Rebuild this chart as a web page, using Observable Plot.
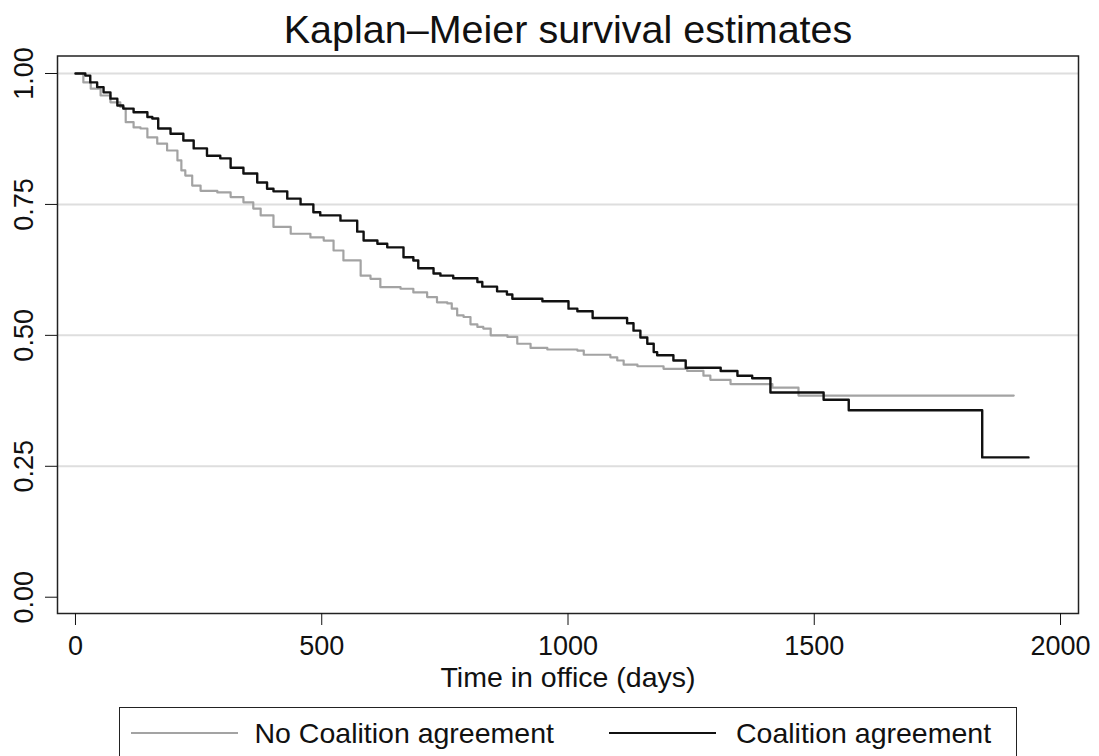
<!DOCTYPE html>
<html><head><meta charset="utf-8">
<script src="https://cdn.jsdelivr.net/npm/d3@7"></script>
<script src="https://cdn.jsdelivr.net/npm/@observablehq/plot@0.6"></script>
<style>
body{margin:0;background:#fff;font-family:"Liberation Sans",Arial,Helvetica,sans-serif;}
#wrap{position:relative;width:1099px;height:756px;overflow:hidden;background:#fff;}
#chart{position:absolute;left:0;top:0;}
#legend{position:absolute;left:119px;top:707px;width:898px;height:80px;border:1.5px solid #222;box-sizing:border-box;background:#fff;}
.sw{position:absolute;height:2px;}
.lt{position:absolute;font-size:28.5px;line-height:30px;white-space:nowrap;color:#111;}
</style></head>
<body><div id="wrap"><div id="chart"></div><div id="legend"></div></div>
<script>
// ---- data ----
const title = "Kaplan–Meier survival estimates";
const xLabel = "Time in office (days)";
const seriesNames = ["No Coalition agreement", "Coalition agreement"];
const seriesColors = ["#a3a3a3", "#111111"];
const xTicks = [0, 500, 1000, 1500, 2000];
const yTicks = [0, 0.25, 0.5, 0.75, 1];
const gridVals = [0.25, 0.5, 0.75, 1];

const noCoalDays = [0,16,31,51,71,91,98,102,118,132,146,166,186,207,215,223,237,254,288,315,341,361,376,402,437,477,504,524,544,579,599,619,660,686,714,734,755,764,775,788,802,816,828,843,877,897,924,958,1019,1032,1086,1100,1113,1141,1194,1242,1275,1289,1330,1415,1468,1905];
const noCoalSurv = [1.000,0.983,0.971,0.958,0.945,0.936,0.933,0.907,0.897,0.895,0.878,0.866,0.853,0.834,0.815,0.805,0.786,0.776,0.773,0.764,0.754,0.742,0.729,0.707,0.694,0.687,0.681,0.662,0.643,0.614,0.608,0.592,0.589,0.582,0.573,0.563,0.561,0.551,0.538,0.535,0.521,0.516,0.513,0.500,0.497,0.484,0.476,0.473,0.471,0.463,0.458,0.452,0.444,0.441,0.436,0.432,0.423,0.415,0.407,0.400,0.385,0.385];

const coalDays = [0,20,30,44,57,71,85,97,118,146,156,168,193,219,240,267,294,315,341,369,389,402,430,457,483,497,538,572,585,613,633,666,686,696,727,741,767,816,826,856,876,887,948,1001,1019,1050,1120,1133,1147,1161,1174,1181,1214,1239,1310,1344,1374,1411,1519,1570,1841,1935];
const coalSurv = [1.000,0.996,0.983,0.974,0.964,0.952,0.939,0.933,0.926,0.917,0.914,0.895,0.885,0.872,0.857,0.843,0.838,0.820,0.809,0.792,0.780,0.775,0.761,0.750,0.735,0.729,0.719,0.698,0.681,0.675,0.668,0.649,0.643,0.628,0.618,0.614,0.609,0.602,0.593,0.584,0.578,0.570,0.565,0.551,0.546,0.533,0.523,0.509,0.496,0.484,0.468,0.462,0.452,0.438,0.432,0.423,0.418,0.391,0.377,0.357,0.267,0.267];

const noCoalRows = noCoalDays.map((d, i) => ({day: d, surv: noCoalSurv[i]}));
const coalRows = coalDays.map((d, i) => ({day: d, surv: coalSurv[i]}));

const font = "Liberation Sans, Arial, Helvetica, sans-serif";
const chart = Plot.plot({
  width: 1099, height: 700,
  marginLeft: 57, marginRight: 21, marginTop: 55.5, marginBottom: 87,
  style: {fontFamily: font, color: "#111", background: "white"},
  x: {domain: [-36.5, 2036.5]},
  y: {domain: [-0.0311, 1.0334]},
  marks: [
    Plot.ruleY(gridVals, {stroke: "#dedede", strokeWidth: 2}),
    Plot.line(noCoalRows, {x: "day", y: "surv", stroke: seriesColors[0], strokeWidth: 2.2, curve: "step-after"}),
    Plot.line(coalRows, {x: "day", y: "surv", stroke: seriesColors[1], strokeWidth: 2.4, curve: "step-after"}),
    Plot.frame({stroke: "#222", strokeWidth: 1.5}),
    Plot.axisX({ticks: xTicks, tickSize: 12, tickPadding: 10, fontSize: 27, label: null, tickFormat: d => String(d)}),
    Plot.axisY({ticks: yTicks, tickSize: 12, tickFormat: d3.format(".2f"), tickRotate: -90, lineAnchor: "middle", textAnchor: "middle", tickPadding: 21, fontSize: 27, label: null}),
    Plot.text([xLabel], {text: d => d, frameAnchor: "bottom", dy: 64, fontSize: 28.5, lineAnchor: "middle"}),
    Plot.text([title], {text: d => d, frameAnchor: "top", dy: -13, fontSize: 39.5, lineAnchor: "bottom"})
  ]
});
document.getElementById("chart").appendChild(chart);

// ---- legend ----
const legend = document.getElementById("legend");
const swLeft = [10.5, 489];
const txLeft = [134.5, 616];
seriesNames.forEach((name, i) => {
  const sw = document.createElement("div");
  sw.className = "sw";
  sw.style.left = swLeft[i] + "px";
  sw.style.width = "107px";
  sw.style.top = "24px";
  sw.style.background = seriesColors[i];
  legend.appendChild(sw);
  const t = document.createElement("span");
  t.className = "lt";
  t.style.left = txLeft[i] + "px";
  t.style.top = "10px";
  t.textContent = name;
  legend.appendChild(t);
});
</script>
</body></html>
